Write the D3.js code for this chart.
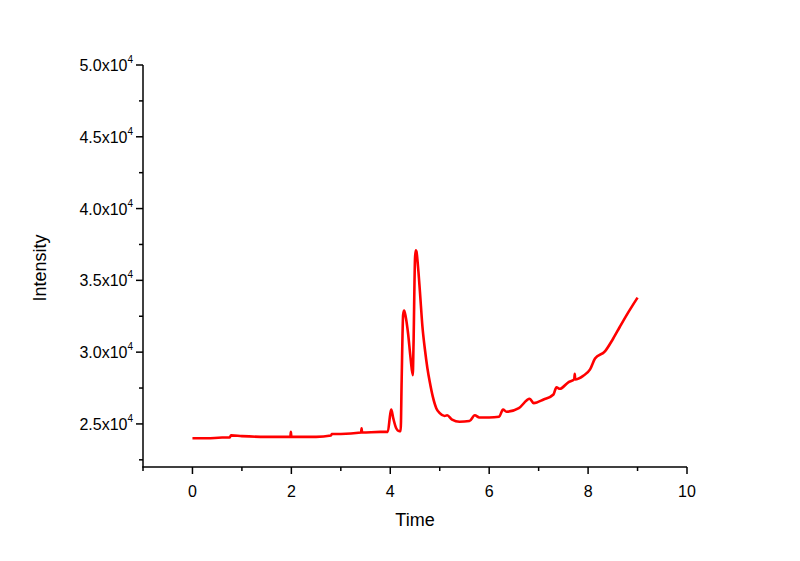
<!DOCTYPE html>
<html><head><meta charset="utf-8">
<script src="https://cdn.jsdelivr.net/npm/d3@7/dist/d3.min.js"></script>
<style>body{margin:0;background:#fff}svg{display:block}text{font-family:"Liberation Sans",Arial,sans-serif}</style>
</head><body>
<script>
const time = [0,0.3,0.6,0.75,0.78,1.0,1.5,1.98,1.99,2.0,2.5,2.8,2.82,3.0,3.41,3.42,3.43,3.8,3.95,4.0,4.02,4.06,4.12,4.18,4.21,4.23,4.26,4.28,4.31,4.36,4.41,4.455,4.47,4.5,4.515,4.53,4.56,4.6,4.65,4.7,4.75,4.8,4.86,4.93,5.0,5.1,5.15,5.25,5.4,5.6,5.71,5.8,6.0,6.2,6.28,6.35,6.6,6.82,6.9,7.1,7.3,7.36,7.43,7.6,7.72,7.73,7.74,7.9,8.04,8.14,8.34,8.5,8.64,8.8,9.0];
const intensity = [24000,24000,24050,24050,24200,24150,24100,24100,24450,24100,24100,24200,24300,24300,24400,24700,24400,24450,24450,25700,26000,25400,24700,24500,24500,28000,32600,32900,32500,31300,29600,28400,30500,36500,37100,37000,36000,34200,31800,30200,28900,27900,26900,26100,25750,25550,25600,25300,25150,25200,25600,25450,25450,25500,26000,25850,26100,26750,26450,26700,27050,27550,27450,27900,28100,28500,28100,28350,28800,29550,30050,30900,31750,32700,33800];
const xMajor = [0,2,4,6,8,10];
const xMinor = [-1,1,3,5,7,9];
const yMajor = [25000,30000,35000,40000,45000,50000];
const yMinor = [22500,27500,32500,37500,42500,47500];
const yLabels = ["2.5","3.0","3.5","4.0","4.5","5.0"];

const W=800,H=561;
const svg=d3.select("body").append("svg").attr("width",W).attr("height",H);
const x=d3.scaleLinear().domain([-1,10]).range([143,687]);
const y=d3.scaleLinear().domain([22000,50000]).range([467,65]);

const g=svg.append("g");
g.append("line").attr("x1",143).attr("x2",143).attr("y1",y(50000)).attr("y2",y(22000)).attr("stroke","#000").attr("stroke-width",1.5);
g.append("line").attr("x1",x(-1)-0.75).attr("x2",x(10)).attr("y1",467).attr("y2",467).attr("stroke","#000").attr("stroke-width",1.5);
xMajor.forEach(v=>{
  g.append("line").attr("x1",x(v)).attr("x2",x(v)).attr("y1",467).attr("y2",474).attr("stroke","#000").attr("stroke-width",1.5);
  g.append("text").attr("x",x(v)).attr("y",497).attr("text-anchor","middle").attr("font-size",16).text(v);
});
xMinor.forEach(v=>{
  g.append("line").attr("x1",x(v)).attr("x2",x(v)).attr("y1",467).attr("y2",471).attr("stroke","#000").attr("stroke-width",1.5);
});
yMajor.forEach((v,i)=>{
  g.append("line").attr("x1",143).attr("x2",136).attr("y1",y(v)).attr("y2",y(v)).attr("stroke","#000").attr("stroke-width",1.5);
  const t=g.append("text").attr("x",133).attr("y",y(v)+6).attr("text-anchor","end").attr("font-size",16);
  t.append("tspan").text(yLabels[i]+"x10");
  t.append("tspan").attr("font-size",10).attr("dy",-8).text("4");
});
yMinor.forEach(v=>{
  g.append("line").attr("x1",143).attr("x2",139).attr("y1",y(v)).attr("y2",y(v)).attr("stroke","#000").attr("stroke-width",1.5);
});
svg.append("text").attr("x",415).attr("y",526).attr("text-anchor","middle").attr("font-size",18).text("Time");
svg.append("text").attr("transform","translate(46,268) rotate(-90)").attr("text-anchor","middle").attr("font-size",18).text("Intensity");
const data=time.map((t,i)=>[t,intensity[i]]);
svg.append("path").datum(data).attr("fill","none").attr("stroke","#ff0000").attr("stroke-width",2.6)
  .attr("stroke-linejoin","round").attr("d",d3.line().curve(d3.curveMonotoneX).x(d=>x(d[0])).y(d=>y(d[1])));
</script>
</body></html>
